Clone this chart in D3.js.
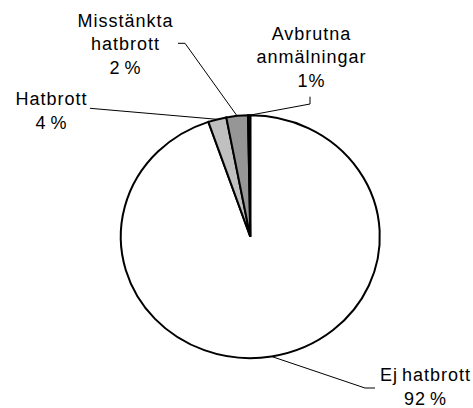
<!DOCTYPE html>
<html>
<head>
<meta charset="utf-8">
<script src="https://cdn.jsdelivr.net/npm/d3@7"></script>
<style>
  body { margin: 0; background: #fff; }
  text { font-family: "Liberation Sans", Arial, sans-serif; font-size: 18px; fill: #000; letter-spacing: 1px; word-spacing: -2px; }
</style>
</head>
<body>
<script>
const w = 473;
const h = 408;

const categories = ["Ej hatbrott", "Hatbrott", "Misstänkta hatbrott", "Avbrutna anmälningar"];
const values = [94.75, 2.28, 2.69, 0.28];
const pctLabels = ["92 %", "4 %", "2 %", "1%"];
const labelLines = [["Ej hatbrott"], ["Hatbrott"], ["Misstänkta", "hatbrott"], ["Avbrutna", "anmälningar"]];
const fills = ["#ffffff", "#c0c0c0", "#969696", "#333333"];

// label layout: centre x, first baseline, leader end points
const labelPos = [
  { x: 425, y: 381, path: [[365, 388], [375, 388]] },
  { x: 51, y: 105, path: [[90, 108.3]] },
  { x: 125, y: 26.5, path: [[185, 43.3], [178, 43.3]] },
  { x: 311, y: 39.5, path: [[310, 104], [310, 96.7]] }
];

const cx = 250.3, cy = 236.7;
const r = 129.5;
const sy = 0.9375; // chart is a little squashed vertically
const lineGap = 23.7;

const svg = d3.select("body")
  .append("svg")
  .attr("width", w)
  .attr("height", h);

const data = categories.map((c, i) => ({ name: c, value: values[i], i: i }));

const pie = d3.pie()
  .value(d => d.value)
  .sort(null);

const arcs = pie(data);

const arc = d3.arc()
  .innerRadius(0)
  .outerRadius(r);

const pieG = svg.append("g")
  .attr("transform", `translate(${cx}, ${cy}) scale(1, ${sy})`);

pieG.selectAll("path")
  .data(arcs)
  .enter()
  .append("path")
  .attr("d", arc)
  .attr("fill", d => fills[d.index])
  .attr("stroke", "#000")
  .attr("stroke-width", 2)
  .attr("stroke-linejoin", "miter")
  .attr("vector-effect", "non-scaling-stroke");

// leader lines from slice middle on the rim to the label
arcs.forEach((d, i) => {
  const a = (d.startAngle + d.endAngle) / 2;
  const p0 = [cx + r * Math.sin(a), cy - r * Math.cos(a) * sy];
  const pts = [p0].concat(labelPos[i].path);
  svg.append("path")
    .attr("d", d3.line()(pts))
    .attr("fill", "none")
    .attr("stroke", "#000")
    .attr("stroke-width", 1);
});

// labels
labelLines.forEach((lines, i) => {
  const all = lines.concat([pctLabels[i]]);
  const t = svg.append("text")
    .attr("text-anchor", "middle");
  all.forEach((s, j) => {
    t.append("tspan")
      .attr("x", labelPos[i].x + 0.5)
      .attr("y", labelPos[i].y + j * lineGap)
      .text(s);
  });
});
</script>
</body>
</html>
